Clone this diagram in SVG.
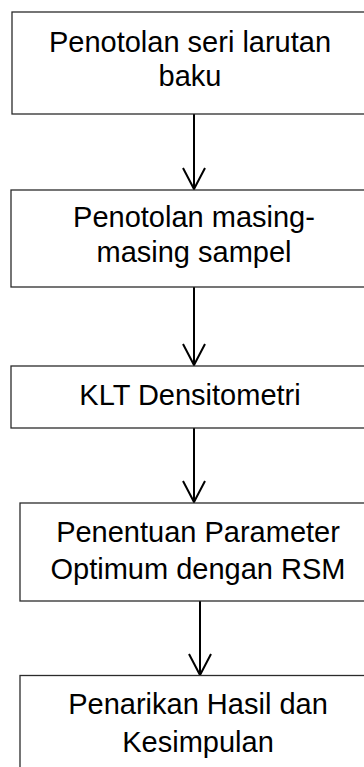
<svg xmlns="http://www.w3.org/2000/svg" width="364" height="767" viewBox="0 0 364 767">
  <style>
    .box { fill: #ffffff; stroke: #2b2b2b; stroke-width: 1.3; }
    .label { font-family: "Liberation Sans", Arial, sans-serif; font-size: 29px; fill: #000000; text-anchor: middle; }
    .link { stroke: #000000; stroke-width: 2; fill: none; }
    .head { stroke: #000000; stroke-width: 2; fill: none; stroke-linecap: butt; }
  </style>
  <rect width="364" height="767" fill="#ffffff"/>

  <g id="connectors">
    <line class="link" x1="194" y1="114" x2="194" y2="189"/>
    <polyline class="head" points="183,168 194,189 205,168"/>
    <line class="link" x1="194" y1="287" x2="194" y2="365"/>
    <polyline class="head" points="183,344 194,365 205,344"/>
    <line class="link" x1="194" y1="428" x2="194" y2="502"/>
    <polyline class="head" points="183,481 194,502 205,481"/>
    <line class="link" x1="200" y1="601" x2="200" y2="675"/>
    <polyline class="head" points="189,654 200,675 211,654"/>
  </g>

  <g id="node1">
    <rect class="box" x="12" y="12" width="356" height="102"/>
    <text class="label" x="190" y="52">Penotolan seri larutan</text>
    <text class="label" x="190" y="86">baku</text>
  </g>

  <g id="node2">
    <rect class="box" x="11" y="190" width="366" height="97"/>
    <text class="label" x="194" y="227">Penotolan masing-</text>
    <text class="label" x="194" y="262">masing sampel</text>
  </g>

  <g id="node3">
    <rect class="box" x="11" y="366" width="366" height="62"/>
    <text class="label" x="190" y="405">KLT Densitometri</text>
  </g>

  <g id="node4">
    <rect class="box" x="20" y="503" width="356" height="98"/>
    <text class="label" x="198" y="542">Penentuan Parameter</text>
    <text class="label" x="198" y="579">Optimum dengan RSM</text>
  </g>

  <g id="node5">
    <rect class="box" x="20" y="675.5" width="356" height="100"/>
    <text class="label" x="198" y="714">Penarikan Hasil dan</text>
    <text class="label" x="198" y="752">Kesimpulan</text>
  </g>
</svg>
